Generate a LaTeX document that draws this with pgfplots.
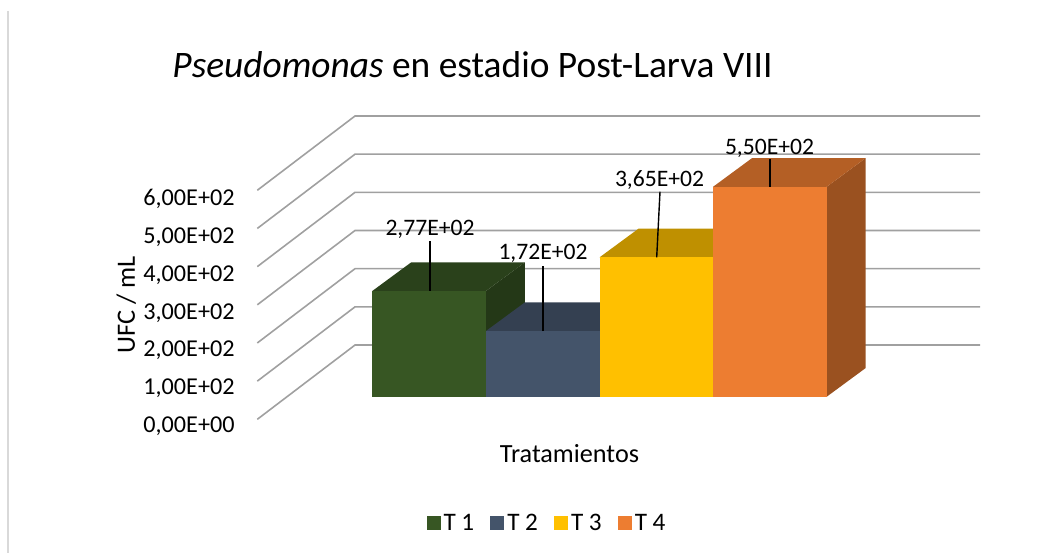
\documentclass[border=0pt]{standalone}
\usepackage{fontspec}
\setmainfont{Carlito}
\usepackage{pgfplots}
\pgfplotsset{compat=1.18}

\definecolor{tone}{HTML}{375623}
\definecolor{ttwo}{HTML}{44546A}
\definecolor{tthree}{HTML}{FFC000}
\definecolor{tfour}{HTML}{ED7D31}
\definecolor{gridgray}{HTML}{A0A0A0}
\definecolor{framegray}{HTML}{D9D9D9}

\begin{document}
\begin{tikzpicture}
% x in pixels of the original chart, y in UFC/mL on the plane of the bar fronts
\begin{axis}[
    x=0.5pt, y=0.19085pt,
    xmin=0, xmax=1062, ymin=-409.5, ymax=1039.3,
    hide axis, clip=false, scale only axis,
    legend columns=4,
    legend image code/.code={\fill[#1] (0pt,-3.5pt) rectangle (7pt,3.5pt);},
    legend style={at={(axis cs:547.5,-332)}, anchor=center, draw=none, fill=none,
        font=\fontsize{12.6}{14}\selectfont,
        nodes={inner sep=1.5pt},
        /tikz/every even column/.append style={column sep=6.5pt}},
]
\addplot[draw=none, forget plot] coordinates {(0,-409.5) (1062,1039.3)};
\addplot[framegray, line width=0.75pt, forget plot] coordinates {(8,1010.5) (8,-409.5)};

% gridlines: floor edge -> back wall -> right
\addplot[gridgray, line width=0.8pt, forget plot] coordinates {(257.3,-59.2) (355,135.4) (980,135.4)};
\addplot[gridgray, line width=0.8pt, forget plot] coordinates {(257.3,40.8) (355,235.4) (980,235.4)};
\addplot[gridgray, line width=0.8pt, forget plot] coordinates {(257.3,140.8) (355,335.4) (980,335.4)};
\addplot[gridgray, line width=0.8pt, forget plot] coordinates {(257.3,240.8) (355,435.4) (980,435.4)};
\addplot[gridgray, line width=0.8pt, forget plot] coordinates {(257.3,340.8) (355,535.4) (980,535.4)};
\addplot[gridgray, line width=0.8pt, forget plot] coordinates {(257.3,440.8) (355,635.4) (980,635.4)};
\addplot[gridgray, line width=0.8pt, forget plot] coordinates {(257.3,540.8) (355,735.4) (980,735.4)};

% T 1 = 277
\addplot[fill=tone!65!black, draw=none, forget plot] coordinates {(485.9,0) (524.9,75.2) (524.9,352.2) (485.9,277)};
\addplot[fill=tone!76!black, draw=none, forget plot] coordinates {(372.3,277) (485.9,277) (524.9,352.2) (411.3,352.2)};
\addplot[fill=tone, draw=none] coordinates {(372.3,0) (485.9,0) (485.9,277) (372.3,277)};
\addlegendentry{T 1}
% T 2 = 172
\addplot[fill=ttwo!65!black, draw=none, forget plot] coordinates {(599.5,0) (638.5,75.2) (638.5,247.2) (599.5,172)};
\addplot[fill=ttwo!76!black, draw=none, forget plot] coordinates {(485.9,172) (599.5,172) (638.5,247.2) (524.9,247.2)};
\addplot[fill=ttwo, draw=none] coordinates {(485.9,0) (599.5,0) (599.5,172) (485.9,172)};
\addlegendentry{T 2}
% T 3 = 365
\addplot[fill=tthree!65!black, draw=none, forget plot] coordinates {(713.1,0) (752.1,75.2) (752.1,440.2) (713.1,365)};
\addplot[fill=tthree!75!black, draw=none, forget plot] coordinates {(599.5,365) (713.1,365) (752.1,440.2) (638.5,440.2)};
\addplot[fill=tthree, draw=none] coordinates {(599.5,0) (713.1,0) (713.1,365) (599.5,365)};
\addlegendentry{T 3}
% T 4 = 550
\addplot[fill=tfour!65!black, draw=none, forget plot] coordinates {(826.7,0) (865.7,75.2) (865.7,625.2) (826.7,550)};
\addplot[fill=tfour!76!black, draw=none, forget plot] coordinates {(713.1,550) (826.7,550) (865.7,625.2) (752.1,625.2)};
\addplot[fill=tfour, draw=none] coordinates {(713.1,0) (826.7,0) (826.7,550) (713.1,550)};
\addlegendentry{T 4}

% leader lines to the data labels
\addplot[black, line width=0.7pt, forget plot] coordinates {(430,277) (430,408.8)};
\addplot[black, line width=0.7pt, forget plot] coordinates {(543,172) (543,343.2)};
\addplot[black, line width=0.7pt, forget plot] coordinates {(656.7,365) (660,537)};
\addplot[black, line width=0.7pt, forget plot] coordinates {(770,550) (770,622)};

\begin{scope}[font=\fontsize{11.8}{13}\selectfont, inner sep=0pt]
\node[anchor=base] at (axis cs:430,423.6) {2,77E+02};
\node[anchor=base] at (axis cs:543,358.4) {1,72E+02};
\node[anchor=base] at (axis cs:659.5,552) {3,65E+02};
\node[anchor=base] at (axis cs:769.5,635.8) {5,50E+02};
\end{scope}
\begin{scope}[font=\fontsize{12.1}{13}\selectfont, inner sep=0pt]
\node[anchor=base east] at (axis cs:235,-92.5) {0,00E+00};
\node[anchor=base east] at (axis cs:235,6.2) {1,00E+02};
\node[anchor=base east] at (axis cs:235,104.9) {2,00E+02};
\node[anchor=base east] at (axis cs:235,203.6) {3,00E+02};
\node[anchor=base east] at (axis cs:235,302.3) {4,00E+02};
\node[anchor=base east] at (axis cs:235,401) {5,00E+02};
\node[anchor=base east] at (axis cs:235,499.7) {6,00E+02};
\end{scope}

\node[anchor=base, inner sep=0pt, rotate=90, font=\fontsize{13.2}{15}\selectfont] at (axis cs:135,240) {UFC / mL};
\node[anchor=base, inner sep=0pt, font=\fontsize{13.1}{15}\selectfont] at (axis cs:569.5,-173.3) {Tratamientos};
\node[anchor=base, inner sep=0pt, font=\fontsize{18.7}{22}\selectfont] at (axis cs:472.5,836) {\textit{Pseudomonas} en estadio Post-Larva VIII};
\end{axis}
\end{tikzpicture}
\end{document}
